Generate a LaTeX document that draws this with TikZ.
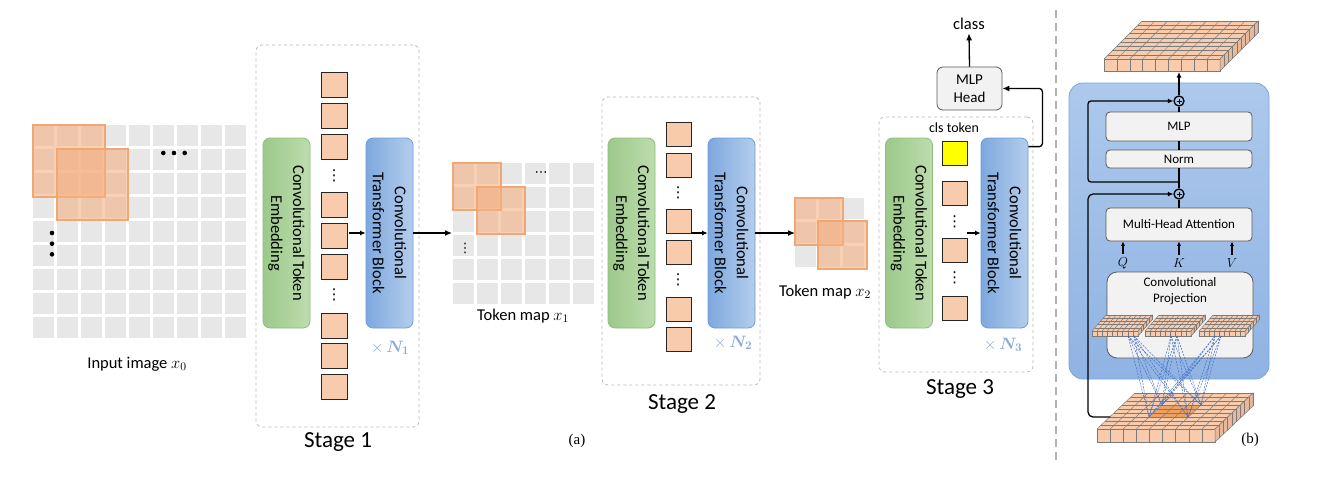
\RequirePackage{fix-cm}
\documentclass[tikz,border=0pt]{standalone}
\usepackage{bm}
\usepackage{fontspec}
\setmainfont{Carlito}
\newfontfamily\timesf{Liberation Serif}
\newfontfamily\djv{DejaVu Sans}
\usetikzlibrary{arrows.meta}
\definecolor{cellgray}{HTML}{E7E7E7}
\definecolor{tokfill}{HTML}{F8CBAD}
\definecolor{winfill}{HTML}{F4B183}
\definecolor{winline}{HTML}{F2A672}
\definecolor{gleft}{HTML}{9CC98A}
\definecolor{gright}{HTML}{BDDCAE}
\definecolor{gborder}{HTML}{8DC07A}
\definecolor{bleft}{HTML}{7EA8DE}
\definecolor{bright}{HTML}{B4CDEC}
\definecolor{bborder}{HTML}{6E9DD6}
\definecolor{nblue}{HTML}{8EAADB}
\definecolor{boxfill}{HTML}{F2F2F2}
\definecolor{boxline}{HTML}{595959}
\definecolor{paneltop}{HTML}{ADC9EC}
\definecolor{panelbot}{HTML}{8FB3E3}
\definecolor{panelline}{HTML}{7DA4D9}
\definecolor{mapline}{HTML}{7A7A7A}
\definecolor{sidefill}{HTML}{E8B898}
\definecolor{hl}{HTML}{F0A060}
\definecolor{dblue}{HTML}{4472C4}
\definecolor{clsyellow}{HTML}{FFFF00}
\newcommand\fsA{\fontsize{16.5}{22}\selectfont}
\newcommand\fsB{\fontsize{15}{18}\selectfont}
\newcommand\fsC{\fontsize{14}{17}\selectfont}
\newcommand\fsD{\fontsize{13}{16}\selectfont}
\newcommand\fsS{\fontsize{23}{28}\selectfont}
\newcommand\graygrid[4]{%
  \foreach \i in {1,...,#3} \foreach \j in {1,...,#4}
    \fill[cellgray] ({#1+(\i-1)*24},{#2+(\j-1)*24}) rectangle ++(21,21);}
\newcommand\tdmap[9]{%
  \fill[tokfill] (#1,#2) -- ++(#3,0) -- ++(#5,#6) -- ++({-1*(#3)},0) -- cycle;
  #9
  \foreach \i in {0,...,#7} \draw[mapl] ({#1+\i*(#3)/(#7)},#2) -- ++(#5,#6);
  \foreach \j in {0,...,#8} \draw[mapl] ({#1+\j*(#5)/(#8)},{#2+\j*(#6)/(#8)}) -- ++(#3,0);
  \filldraw[tokfill, draw=mapline, line width=0.5pt] (#1,#2) rectangle ++(#3,#4);
  \foreach \i in {1,...,#7} \draw[mapl] ({#1+\i*(#3)/(#7)},#2) -- ++(0,#4);
  \filldraw[sidefill, draw=mapline, line width=0.5pt] ({#1+#3},#2) -- ++(#5,#6) -- ++(0,#4) -- ++({-1*(#5)},{-1*(#6)}) -- cycle;
  \foreach \j in {1,...,#8} \draw[mapl] ({#1+#3+\j*(#5)/(#8)},{#2+\j*(#6)/(#8)}) -- ++(0,#4);
}
\tikzset{
  arr/.style={-{Latex[length=7pt,width=6pt]}, line width=1.3pt},
  sarr/.style={-{Latex[length=5.5pt,width=5pt]}, line width=1.3pt},
  qarr/.style={-{Latex[length=4.5pt,width=4pt]}, line width=1.2pt},
  thk/.style={line width=1.3pt},
  mapl/.style={draw=mapline, line width=0.45pt},
  win/.style={fill=winfill, fill opacity=0.6, draw=winline, line width=1.2pt},
  stagebox/.style={draw=gray!55, dashed, rounded corners=6pt, line width=0.8pt, inner sep=0},
  ctebox/.style={draw=gborder, left color=gleft, right color=gright, rounded corners=7pt, line width=0.8pt, minimum width=47pt, minimum height=190pt, inner sep=0},
  ctbbox/.style={draw=bborder, left color=bleft, right color=bright, rounded corners=7pt, line width=0.8pt, minimum width=47pt, minimum height=190pt, inner sep=0},
  boxtext/.style={rotate=-90, align=center, font=\fsA, inner sep=0},
  tok/.style={draw=black!85, fill=tokfill, line width=0.8pt, minimum width=25pt, minimum height=24pt, inner sep=0, anchor=north west},
  vdt/.style={font=\djv\fontsize{15}{15}\selectfont, inner sep=0},
  nlab/.style={text=nblue, font=\fsA},
  lab/.style={font=\fsA},
  stagelab/.style={font=\fsS},
  tlab/.style={font=\timesf\fontsize{15}{18}\selectfont},
  graybox/.style={draw=boxline, fill=boxfill, rounded corners=4pt, line width=0.8pt, inner sep=0},
  panel/.style={draw=panelline, top color=paneltop, bottom color=panelbot, rounded corners=14pt, line width=0.8pt, minimum width=200pt, minimum height=296pt, inner sep=0},
  plus/.style={circle, draw, line width=1.3pt, minimum size=10pt, inner sep=0,
    path picture={\draw[line width=1pt] ([yshift=-2.5pt]path picture bounding box.north) -- ([yshift=2.5pt]path picture bounding box.south)
      ([xshift=2.5pt]path picture bounding box.west) -- ([xshift=-2.5pt]path picture bounding box.east);}},
  dl/.style={draw=dblue, line width=0.5pt, dash pattern=on 2pt off 1.2pt},
  dotc/.style={fill=black}
}
\begin{document}
\begin{tikzpicture}[x=1pt,y=-1pt]
\useasboundingbox (0,0) rectangle (1318,480);
\fill[white] (0,0) rectangle (1318,480);

% ---------- input image ----------
\graygrid{33}{125}{9}{9}
\filldraw[win] (33,125) rectangle (105,197);
\filldraw[win] (57,149) rectangle (128,220);
\foreach \x in {163.3,174,184.7} \fill[dotc] (\x,153) circle (2.3pt);
\foreach \y in {233,243.7,254.3} \fill[dotc] (52,\y) circle (2.3pt);
\node[lab] (lab0) at (137,364) {Input image $x_0$};

% ---------- stage 1 ----------
\node[stagebox, minimum width=163pt, minimum height=382pt] (s1) at (337.5,236) {};
\node[ctebox] (g1) at (286.5,233) {};
\node[boxtext] (g1t) at (g1.center) {Convolutional Token\\Embedding};
\node[ctbbox] (b1) at (389.5,233) {};
\node[boxtext] (b1t) at (b1.center) {Convolutional\\Transformer Block};
\foreach \y [count=\k] in {72,103,134,192,223,254,313,343,374}
  \node[tok, minimum width=26pt, minimum height=25pt] (t1-\k) at (321,\y) {};
\node[vdt] (d1a) at (334,176) {⋮};
\node[vdt] (d1b) at (334,295) {⋮};
\draw[sarr] ([xshift=-17pt]b1.west) -- (b1.west);
\node[nlab] (n1) at (390,348) {$\times\,\bm{N_1}$};
\node[stagelab] (sl1) at (338,442) {Stage 1};
\coordinate (x1in) at (452,233);
\draw[arr] (b1.east) -- (x1in);

% ---------- token map x1 ----------
\graygrid{453}{163}{6}{6}
\filldraw[win] (453,163) rectangle (501,210);
\filldraw[win] (477,187) rectangle (525,234);
\node[vdt, font=\djv\fontsize{13}{13}\selectfont] (x1h) at (541,174) {⋯};
\node[vdt, font=\djv\fontsize{13}{13}\selectfont] (x1v) at (465,248) {⋮};
\node[lab] (lab1) at (523,316) {Token map $x_1$};

% ---------- stage 2 ----------
\node[stagebox, minimum width=158pt, minimum height=288pt] (s2) at (681,241) {};
\node[ctebox] (g2) at (631.5,233) {};
\node[boxtext] (g2t) at (g2.center) {Convolutional Token\\Embedding};
\node[ctbbox] (b2) at (731.5,233) {};
\node[boxtext] (b2t) at (b2.center) {Convolutional\\Transformer Block};
\foreach \y [count=\k] in {121.7,153.3,209,240,296.7,327.3}
  \node[tok] (t2-\k) at (666,\y) {};
\node[vdt] (d2a) at (678,193) {⋮};
\node[vdt] (d2b) at (678,280) {⋮};
\draw[sarr] ([xshift=-17pt]b2.west) -- (b2.west);
\node[nlab] (n2) at (733,343) {$\times\,\bm{N_2}$};
\node[stagelab] (sl2) at (682,404) {Stage 2};
\coordinate (x2in) at (795,233);
\draw[arr] (b2.east) -- (x2in);
\node[tlab] (la) at (577,441) {(a)};

% ---------- token map x2 ----------
\graygrid{795}{198}{3}{3}
\filldraw[win] (795,198) rectangle (843,245);
\filldraw[win] (818,221) rectangle (867,269);
\node[lab] (lab2) at (825,292) {Token map $x_2$};

% ---------- stage 3 ----------
\node[stagebox, minimum width=154pt, minimum height=255pt] (s3) at (956,244.5) {};
\node[ctebox] (g3) at (909,233) {};
\node[boxtext] (g3t) at (g3.center) {Convolutional Token\\Embedding};
\node[ctbbox] (b3) at (1004.5,233) {};
\node[boxtext] (b3t) at (b3.center) {Convolutional\\Transformer Block};
\node[font=\fsC] (clst) at (954,128) {cls token};
\node[tok, fill=clsyellow] (cls3) at (942,141) {};
\foreach \y [count=\k] in {180.7,238.3,296}
  \node[tok] (t3-\k) at (942,\y) {};
\node[vdt] (d3a) at (954.5,222) {⋮};
\node[vdt] (d3b) at (954.5,278) {⋮};
\draw[sarr] ([xshift=-14pt]b3.west) -- (b3.west);
\node[nlab] (n3) at (1003,345) {$\times\,\bm{N_3}$};
\node[stagelab] (sl3) at (960,389) {Stage 3};
\node[graybox, minimum width=65pt, minimum height=43pt, rounded corners=6pt, align=center, font=\fsB] (mlp) at (969.5,88.5) {MLP\\Head};
\node[font=\fsA] (cls) at (969,24) {class};
\draw[arr] (mlp.north) -- (cls.south);
\draw[arr, rounded corners=3pt] ([yshift=-9pt]b3.north east) -- ++(14,0) |- (mlp.east);

% ---------- separator ----------
\draw[gray!60, line width=2.5pt, dash pattern=on 8pt off 5pt] (1056,10) -- (1056,464);

% ---------- panel (b) ----------
\tdmap{1104}{59}{116}{12}{38}{-38}{9}{9}{}
\coordinate (topmap) at (1179,72);
\tdmap{1097}{429}{118}{13}{38}{-36}{9}{9}{\fill[hl] (1149,417) -- (1188.3,417) -- (1201,405) -- (1162,405) -- cycle;}
\node[panel] (tb) at (1169,231) {};
\node[plus] (p1) at (1179,101) {};
\node[plus] (p2) at (1179,194) {};
\node[graybox, minimum width=146pt, minimum height=29pt, font=\fsD] (mlpb) at (1179,126.5) {MLP};
\node[graybox, minimum width=146pt, minimum height=18pt, font=\fsD] (norm) at (1179,159) {Norm};
\node[graybox, minimum width=146pt, minimum height=33pt, font=\fsD] (mha) at (1179,224.5) {Multi-Head Attention};
\node[graybox, minimum width=146pt, minimum height=86pt, rounded corners=10pt] (cp) at (1180,315) {};
\node[font=\fsD, align=center] (cpt) at (1180,291) {Convolutional\\Projection};
\draw[sarr] (p1.north) -- (topmap);
\draw[thk] (mlpb.north) -- (p1.south);
\draw[thk] (norm.north) -- (mlpb.south);
\draw[thk] (p2.north) -- (norm.south);
\draw[thk] (mha.north) -- (p2.south);
\coordinate (br1) at (1179,182);
\draw[sarr, rounded corners=3pt] (br1) -- ++(-91,0) |- (p1.west);
\coordinate (bml) at (1110,417);
\draw[sarr, rounded corners=5pt] (bml) -- ++(-22,0) |- (p2.west);
\node[font=\fsD] (q) at (1123,263) {$Q$};
\node[font=\fsD] (k) at (1179,263) {$K$};
\node[font=\fsD] (v) at (1232,263) {$V$};
\foreach \n in {q,k,v} \draw[qarr] (\n.north) -- (\n.north |- mha.south);
\tdmap{1092}{331}{46}{5}{14}{-16}{9}{5}{}
\tdmap{1145}{331}{46}{5}{14}{-16}{9}{5}{}
\tdmap{1199}{331}{46}{5}{14}{-16}{9}{5}{}
\foreach \sx in {1128,1134,1171,1177,1215,1221}
  \foreach \cx/\cy in {1149/417,1188/417,1162/405,1201/405}
    \draw[dl] (\sx,336) -- (\cx,\cy);
\node[tlab] (lb) at (1250,440) {(b)};
\end{tikzpicture}
\end{document}
